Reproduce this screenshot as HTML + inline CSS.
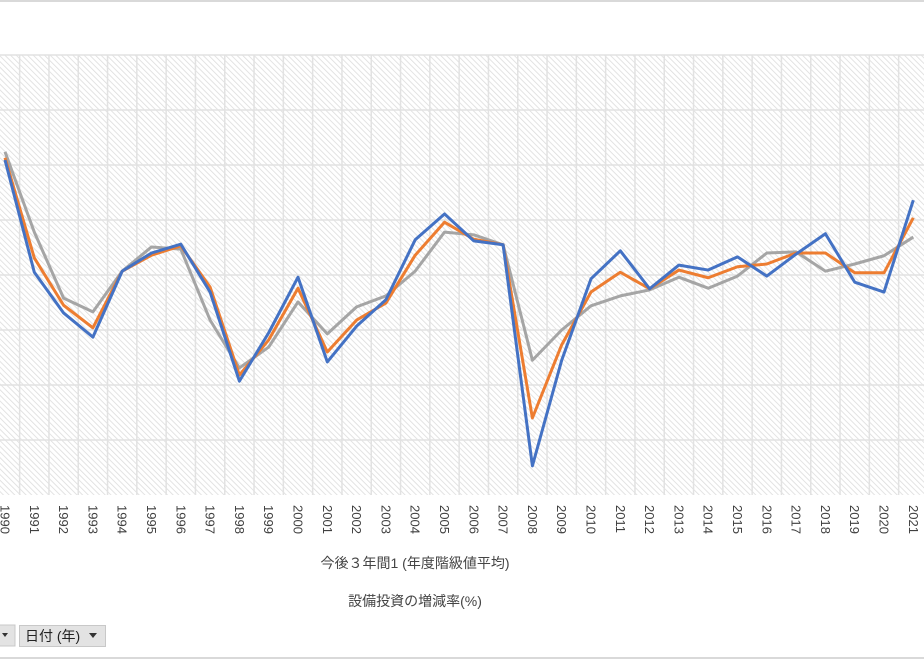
<!DOCTYPE html>
<html><head><meta charset="utf-8"><style>
body{margin:0;width:924px;height:660px;background:#fff;overflow:hidden;font-family:"Liberation Sans","Noto Sans CJK JP",sans-serif;}
svg{position:absolute;left:0;top:0}
</style></head><body>
<svg id="chart" width="924" height="660" xmlns="http://www.w3.org/2000/svg">
<defs>
<pattern id="hatch" width="4" height="4" patternUnits="userSpaceOnUse" patternTransform="rotate(-45)">
<rect width="4" height="4" fill="#fff"/><line x1="0" y1="0" x2="0" y2="4" stroke="#dcdcdc" stroke-width="1.6"/>
</pattern>
</defs>
<line x1="0" y1="1" x2="924" y2="1" stroke="#d9d9d9" stroke-width="2"/>
<rect x="0" y="55" width="924" height="440" fill="url(#hatch)"/>
<g id="grid"></g>
<g id="series"></g>
<g id="xlabels"></g>
<text x="415" y="568" font-size="14" fill="#444" text-anchor="middle">今後３年間1 (年度階級値平均)</text>
<text x="415" y="606" font-size="14" fill="#444" text-anchor="middle">設備投資の増減率(%)</text>
<g><rect x="-5" y="625" width="20" height="21" fill="#e3e3e3" stroke="#c8c8c8"/><path d="M2 633 l6 0 l-3 4z" fill="#333"/></g>
<g><rect x="19.5" y="625.5" width="86" height="21" fill="#e3e3e3" stroke="#c8c8c8"/><text x="25" y="641" font-size="14" fill="#222">日付 (年)</text><path d="M89 633 l8 0 l-4 5z" fill="#333"/></g>
<line x1="0" y1="658" x2="924" y2="658" stroke="#d9d9d9" stroke-width="2"/>
</svg>
<script>
const years=[1990,1991,1992,1993,1994,1995,1996,1997,1998,1999,2000,2001,2002,2003,2004,2005,2006,2007,2008,2009,2010,2011,2012,2013,2014,2015,2016,2017,2018,2019,2020,2021];
const blueValues=[20.9,0.5,-6.9,-11.3,0.7,4.0,5.6,-3.1,-19.3,-10.5,-0.4,-15.8,-9.3,-4.5,6.4,11.1,6.2,5.5,-34.7,-15.5,-0.7,4.4,-2.5,1.8,0.9,3.3,-0.2,3.8,7.5,-1.3,-3.1,13.6];
const orangeValues=[21.3,3.1,-5.5,-9.6,0.7,3.6,5.3,-2.2,-18.2,-11.8,-2.4,-14.0,-8.2,-5.1,3.6,9.6,6.5,5.5,-26.0,-12.7,-3.1,0.5,-2.5,0.9,-0.5,1.5,2.0,4.0,4.0,0.4,0.4,10.4];
const grayValues=[22.4,7.8,-4.2,-6.7,0.7,5.1,4.7,-8.2,-16.9,-13.1,-4.9,-10.7,-5.8,-3.8,0.7,7.8,7.3,5.5,-15.5,-10.0,-5.6,-3.8,-2.7,-0.4,-2.4,-0.2,4.0,4.2,0.7,2.0,3.5,6.9];
const gridValues=[40,30,20,10,0,-10,-20,-30];
const NS="http://www.w3.org/2000/svg";
const x0=5,step=29.3,yTop=55,yBot=495,vMax=40,vMin=-40;
const xs=i=>x0+i*step;
const ys=v=>yTop+(vMax-v)/(vMax-vMin)*(yBot-yTop);
const grid=document.getElementById('grid');
gridValues.forEach(v=>{const l=document.createElementNS(NS,'line');


l.setAttribute('x1',0);l.setAttribute('x2',924);l.setAttribute('y1',ys(v));l.setAttribute('y2',ys(v));l.setAttribute('stroke','#e2e2e2');l.setAttribute('stroke-width','1.5');grid.appendChild(l);});
for(let i=0;i<=years.length;i++){const l=document.createElementNS(NS,'line');


const x=xs(i)-step/2;l.setAttribute('x1',x);l.setAttribute('x2',x);l.setAttribute('y1',yTop);l.setAttribute('y2',yBot);l.setAttribute('stroke','#e2e2e2');l.setAttribute('stroke-width','1.5');grid.appendChild(l);}
const ser=document.getElementById('series');
[[grayValues,'#a5a5a5','series-gray'],[orangeValues,'#ed7d31','series-orange'],[blueValues,'#4472c4','series-blue']].forEach(([vals,c,n])=>{
const p=document.createElementNS(NS,'polyline');


p.setAttribute('points',vals.map((v,i)=>xs(i)+','+ys(v)).join(' '));
p.setAttribute('fill','none');p.setAttribute('stroke',c);p.setAttribute('stroke-width','3');p.setAttribute('stroke-linejoin','round');ser.appendChild(p);});
const xl=document.getElementById('xlabels');
years.forEach((y,i)=>{const t=document.createElementNS(NS,'text');


t.setAttribute('transform','translate('+(xs(i)-4.5)+',505) rotate(90)');t.setAttribute('font-size','13');t.setAttribute('fill','#404040');t.textContent=y;xl.appendChild(t);});
</script>
</body></html>
